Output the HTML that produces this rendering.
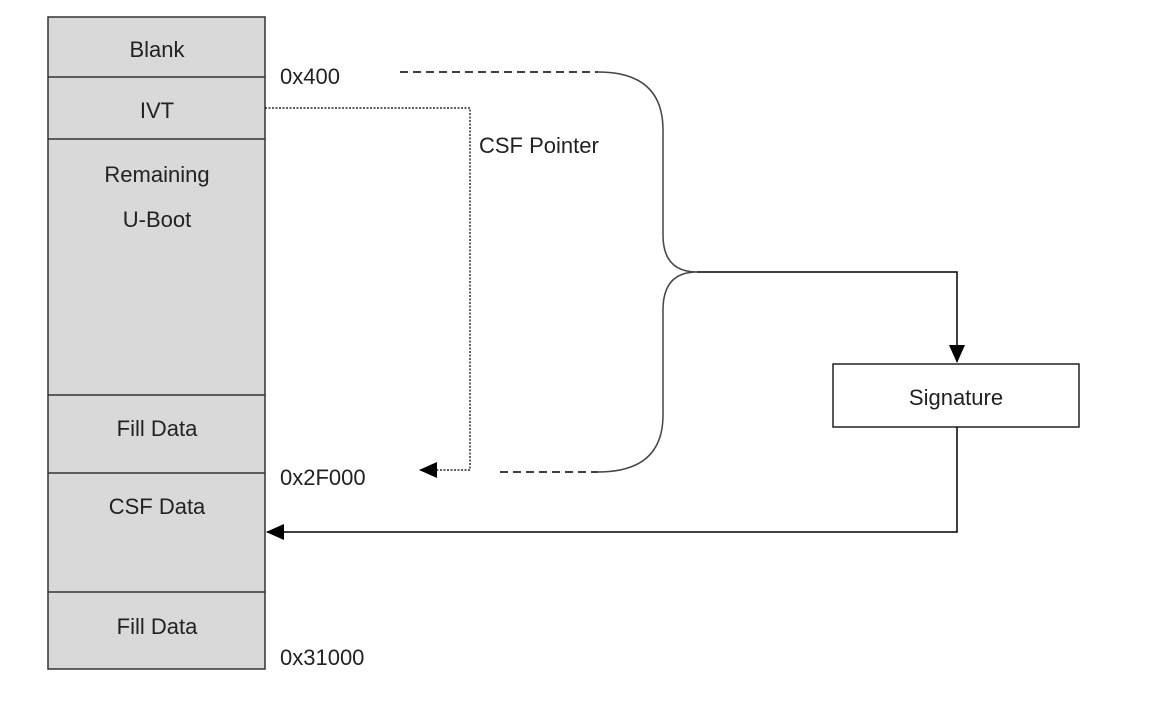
<!DOCTYPE html>
<html><head><style>
body{margin:0;background:#fff;width:1170px;height:702px;overflow:hidden}
svg text{font-family:"Liberation Sans",sans-serif;font-size:22px;fill:#222}
</style></head><body>
<svg width="1170" height="702" viewBox="0 0 1170 702">
<defs>
<marker id="a" markerWidth="10" markerHeight="10" refX="9" refY="5" orient="auto" markerUnits="userSpaceOnUse"><path d="M0,0 L10,5 L0,10 z" fill="#000"/></marker>
<marker id="b" markerWidth="18" markerHeight="16" refX="17" refY="8" orient="auto" markerUnits="userSpaceOnUse"><path d="M0,0 L18,8 L0,16 z" fill="#000"/></marker>
</defs>
<rect x="48" y="17" width="217" height="652" fill="#d9d9d9" stroke="#333" stroke-width="1.5"/>
<g stroke="#333" stroke-width="1.5">
<line x1="48" y1="77" x2="265" y2="77"/><line x1="48" y1="139" x2="265" y2="139"/>
<line x1="48" y1="395" x2="265" y2="395"/><line x1="48" y1="473" x2="265" y2="473"/>
<line x1="48" y1="592" x2="265" y2="592"/>
</g>
<g text-anchor="middle">
<text x="157" y="57">Blank</text>
<text x="157" y="118">IVT</text>
<text x="157" y="182">Remaining</text>
<text x="157" y="227">U-Boot</text>
<text x="157" y="436">Fill Data</text>
<text x="157" y="514">CSF Data</text>
<text x="157" y="634">Fill Data</text>
<text x="956" y="405">Signature</text>
</g>
<text x="280" y="84">0x400</text>
<text x="479" y="153">CSF Pointer</text>
<text x="280" y="485">0x2F000</text>
<text x="280" y="665">0x31000</text>
<g fill="none" stroke="#000" stroke-width="1.5">
<line x1="400" y1="72" x2="598" y2="72" stroke-dasharray="8,5"/>
<line x1="500" y1="472" x2="598" y2="472" stroke-dasharray="8,5"/>
<path d="M598,72 Q663,72 663,130 L663,235 Q663,272 697,272 Q663,272 663,310 L663,415 Q663,472 598,472" stroke="#444"/>
<path d="M697,272 L957,272 L957,362" marker-end="url(#b)"/>
<rect x="833" y="364" width="246" height="63" stroke="#222"/>
<path d="M957,427 L957,532 L267,532" marker-end="url(#b)"/>
<path d="M265,108 L470,108 L470,470 L420,470" stroke-dasharray="2,1.5" stroke-width="1.2" marker-end="url(#b)"/>
</g>
</svg>
</body></html>
